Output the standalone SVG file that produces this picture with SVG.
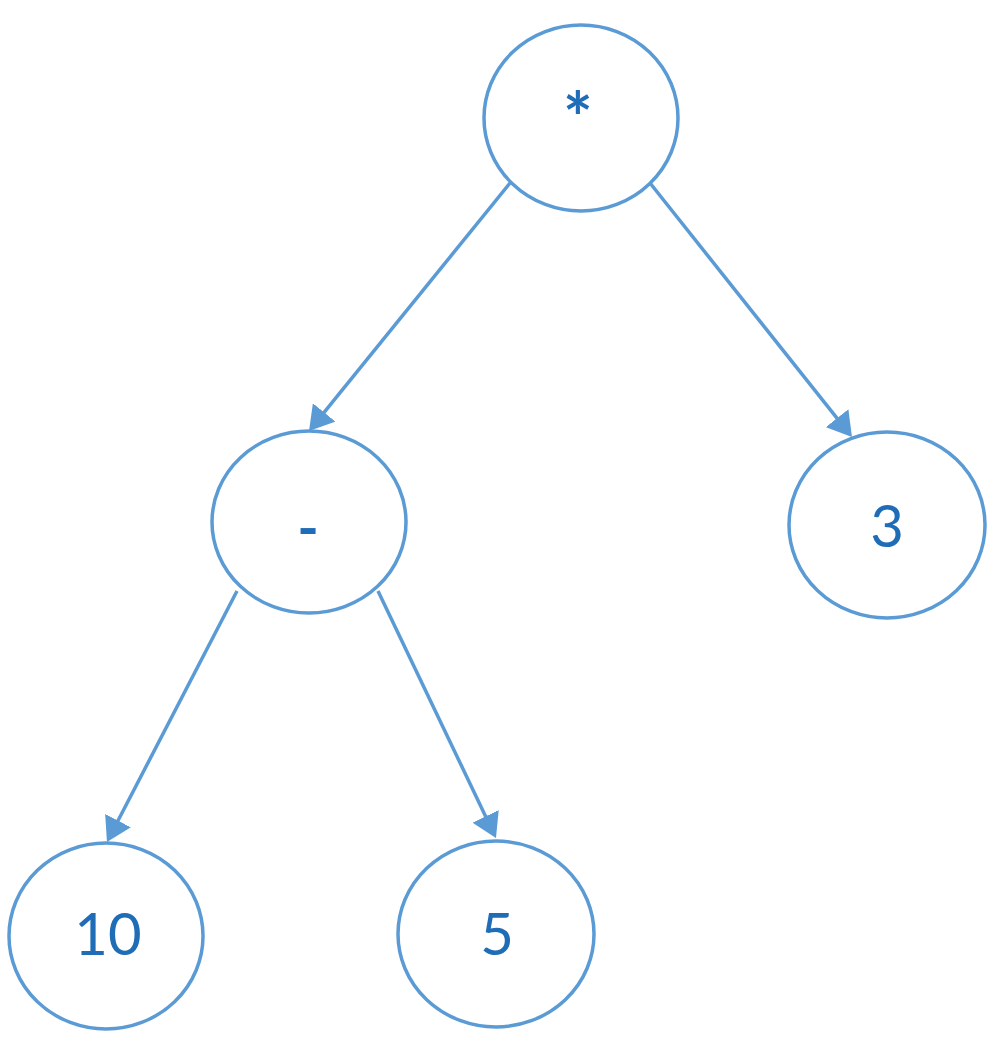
<svg xmlns="http://www.w3.org/2000/svg" width="1008" height="1048" viewBox="0 0 1008 1048">
  <style>
    .node ellipse { fill: #FFFFFF; stroke: #5B9BD5; stroke-width: 3.5; }
    .node text { font-family: Lato, "Open Sans", "Liberation Sans", sans-serif; font-size: 58px; fill: #1F6DB7; text-anchor: middle; }
    .node text.sym { font-weight: bold; }
    .edge { stroke: #5B9BD5; stroke-width: 3.5; fill: none; marker-end: url(#arrow); }
  </style>
  <defs>
    <marker id="arrow" markerUnits="userSpaceOnUse" viewBox="0 0 24 29" markerWidth="24" markerHeight="29" refX="12" refY="14.5" orient="auto">
      <path d="M0,0 L24,14.5 L0,29 z" fill="#5B9BD5"/>
    </marker>
  </defs>
  <rect width="1008" height="1048" fill="#FFFFFF"/>
  <g id="connectors">
    <line class="edge" x1="510" y1="183" x2="316.6" y2="421.7"/>
    <line class="edge" x1="650" y1="183" x2="844.5" y2="427.6"/>
    <line class="edge" x1="237" y1="591" x2="112.5" y2="831.3"/>
    <line class="edge" x1="378" y1="591" x2="490.8" y2="827.2"/>
  </g>
  <g id="node-mul" class="node">
    <ellipse cx="581" cy="118" rx="97" ry="93"/>
    <text class="sym" x="578" y="144" style="font-size:70px">*</text>
  </g>
  <g id="node-minus" class="node">
    <ellipse cx="309" cy="522" rx="97" ry="91"/>
    <text class="sym" x="308" y="548">-</text>
  </g>
  <g id="node-3" class="node">
    <ellipse cx="887" cy="525" rx="98" ry="93"/>
    <text x="887" y="547">3</text>
  </g>
  <g id="node-10" class="node">
    <ellipse cx="106" cy="936" rx="97" ry="93"/>
    <text x="108" y="955">10</text>
  </g>
  <g id="node-5" class="node">
    <ellipse cx="496" cy="934" rx="98" ry="93"/>
    <text x="497" y="955">5</text>
  </g>
</svg>
